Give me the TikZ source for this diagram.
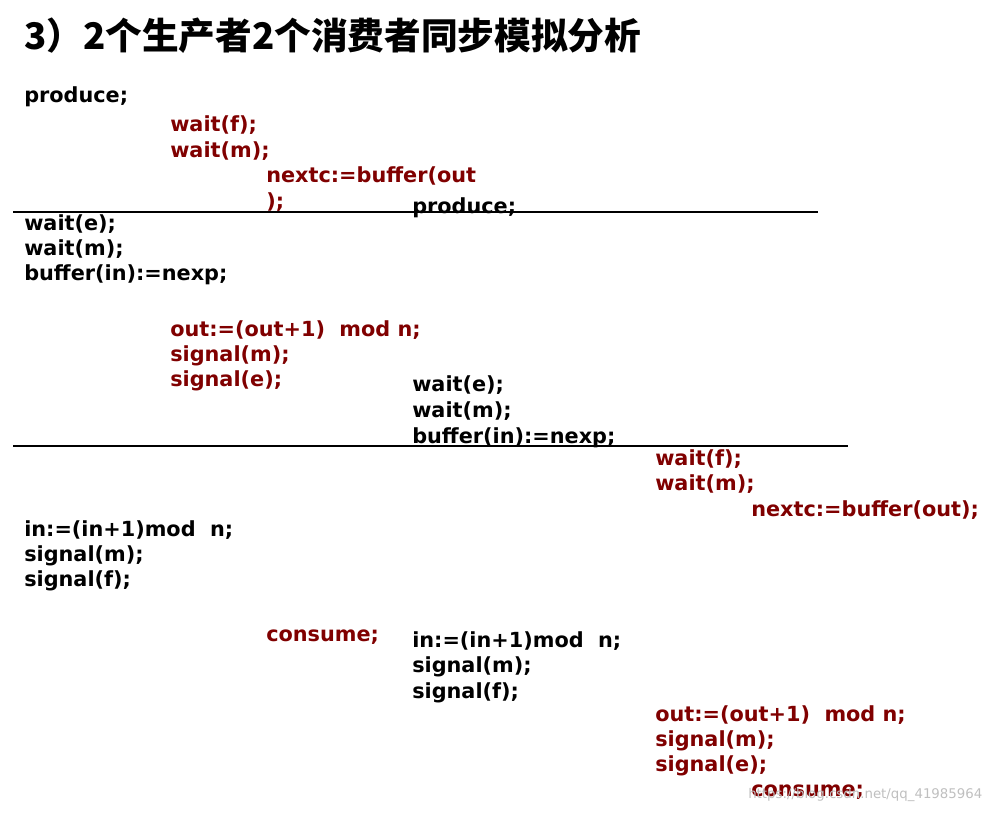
\documentclass[tikz,border=0pt]{standalone}
\usepackage{fontspec}
\setmainfont{DejaVu Sans}
\newfontfamily\cjk{Noto Sans CJK SC}
\definecolor{codered}{HTML}{800000}
\begin{document}
\begin{tikzpicture}[x=0.75pt,y=-0.75pt,
    codeline/.style={anchor=west,inner sep=0pt,yshift=-2.5pt,font=\bfseries\fontsize{15.6pt}{17pt}\selectfont},
    sepline/.style={line width=0.8pt}]
  % Page frame.
  \useasboundingbox (0,0) rectangle (1000,813);

  % Title.
  \node[anchor=west,inner sep=0pt,font=\cjk\bfseries\fontsize{27.5pt}{30pt}\selectfont] (title) at (24,36) {3）2个生产者2个消费者同步模拟分析};

  % Code lines: x / y / text / colour.
  \foreach \px/\py/\txt/\col [count=\n] in {
      24/93/{produce;}/black,
      170/122/{wait(f);}/codered,
      170/148/{wait(m);}/codered,
      266/173/{nextc:=buffer(out}/codered,
      266/199/{);}/codered,
      412/204/{produce;}/black,
      24/221/{wait(e);}/black,
      24/246/{wait(m);}/black,
      24/271/{buffer(in):=nexp;}/black,
      170/327/{out:=(out+1)\ \ mod n;}/codered,
      170/353/{signal(m);}/codered,
      170/378/{signal(e);}/codered,
      412/382/{wait(e);}/black,
      412/408/{wait(m);}/black,
      412/434/{buffer(in):=nexp;}/black,
      655/456/{wait(f);}/codered,
      655/481/{wait(m);}/codered,
      751/507/{nextc:=buffer(out);}/codered,
      24/527/{in:=(in+1)mod\ \ n;}/black,
      24/553/{signal(m);}/black,
      24/578/{signal(f);}/black,
      266/634/{consume;}/codered,
      412/638/{in:=(in+1)mod\ \ n;}/black,
      412/664/{signal(m);}/black,
      412/690/{signal(f);}/black,
      655/712/{out:=(out+1)\ \ mod n;}/codered,
      655/738/{signal(m);}/codered,
      655/763/{signal(e);}/codered,
      751/789/{consume;}/codered}
    \node[codeline,text=\col] (line\n) at (\px,\py) {\txt};

  % Separators.
  \coordinate (sepAl) at (13,212);
  \coordinate (sepAr) at (818,212);
  \coordinate (sepBl) at (13,446);
  \coordinate (sepBr) at (848,446);
  \draw[sepline] (sepAl) -- (sepAr);
  \draw[sepline] (sepBl) -- (sepBr);

  % Watermark.
  \node[anchor=west,inner sep=0pt,text=black!25,font=\fontsize{10pt}{12pt}\selectfont] (mark) at (748,795) {https://blog.csdn.net/qq\_41985964};
\end{tikzpicture}
\end{document}
